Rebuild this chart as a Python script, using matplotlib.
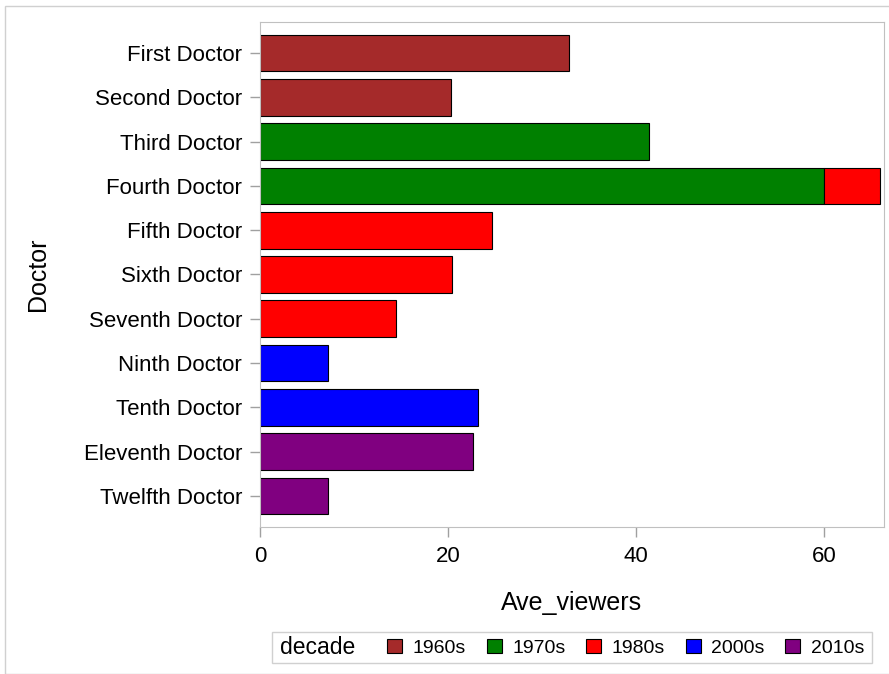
import matplotlib.pyplot as plt
import numpy as np
from matplotlib.patches import Patch, Rectangle

plt.rcParams['font.family'] = ['Liberation Sans', 'DejaVu Sans']

# --------------------------------------------------------------------------------

doctors = ['First Doctor', 'Second Doctor', 'Third Doctor', 'Fourth Doctor',
           'Fifth Doctor', 'Sixth Doctor', 'Seventh Doctor', 'Ninth Doctor',
           'Tenth Doctor', 'Eleventh Doctor', 'Twelfth Doctor']
decades = ['1960s', '1970s', '1980s', '2000s', '2010s']
colors = ['#A52A2A', '#008000', '#FF0000', '#0000FF', '#800080']

v1960s = [32.9, 20.3, 0, 0, 0, 0, 0, 0, 0, 0, 0]
v1970s = [0, 0, 41.4, 60.0, 0, 0, 0, 0, 0, 0, 0]
v1980s = [0, 0, 0, 6.0, 24.7, 20.4, 14.5, 0, 0, 0, 0]
v2000s = [0, 0, 0, 0, 0, 0, 0, 7.2, 23.2, 0, 0]
v2010s = [0, 0, 0, 0, 0, 0, 0, 0, 0, 22.7, 7.2]
series = [v1960s, v1970s, v1980s, v2000s, v2010s]

# --------------------------------------------------------------------------------

fig = plt.figure(figsize=(8.89, 6.74), dpi=100)
ax = fig.add_axes([0.2925, 0.2181, 0.702, 0.7493])

y = np.arange(len(doctors))
left = np.zeros(len(doctors))
for vals, c in zip(series, colors):
    vals = np.array(vals, dtype=float)
    mask = vals > 0
    ax.barh(y[mask], vals[mask], left=left[mask], height=0.83, color=c,
            edgecolor='black', linewidth=0.8)
    left += vals

ax.set_ylim(len(doctors) - 1 + 0.7, -0.7)
ax.set_xlim(0, 66.4)
ax.set_yticks(y)
ax.set_yticklabels(doctors)
ax.set_xticks([0, 20, 40, 60])
ax.tick_params(axis='both', labelsize=16, color='#a0a0a0', length=7, width=1)
ax.tick_params(axis='x', pad=7)
ax.tick_params(axis='y', pad=6)
for s in ax.spines.values():
    s.set_color('#c0c0c0')

ax.set_xlabel('Ave_viewers', fontsize=18)
ax.set_ylabel('Doctor', fontsize=18)
ax.xaxis.set_label_coords((571 - 260) / 624, -(603 - 527) / 505)
ax.yaxis.set_label_coords(-(260 - 38) / 624, 0.5)
ax.xaxis.label.set_va('center')
ax.yaxis.label.set_va('center')

# legend box with inline title
handles = [Patch(facecolor=c, edgecolor='black', linewidth=0.8) for c in colors]
fig.legend(handles, decades, loc='center left', ncol=5, frameon=False,
           bbox_to_anchor=(387 / 889, 1 - 648 / 674), fontsize=14,
           handlelength=0.78, handleheight=0.75, handletextpad=0.55,
           columnspacing=1.05, borderpad=0, borderaxespad=0)
fig.text(280 / 889, 1 - 648 / 674, 'decade', fontsize=16.5, va='center')
fig.patches.append(Rectangle((272 / 889, 1 - 663 / 674), 600 / 889, 31 / 674,
                             transform=fig.transFigure, fill=False,
                             edgecolor='#d0d0d0', linewidth=1))
fig.patches.append(Rectangle((5 / 889, 0), 890 / 889, 1 - 6 / 674,
                             transform=fig.transFigure, fill=False,
                             edgecolor='#d0d0d0', linewidth=1))

plt.savefig('out.png', dpi=100)
